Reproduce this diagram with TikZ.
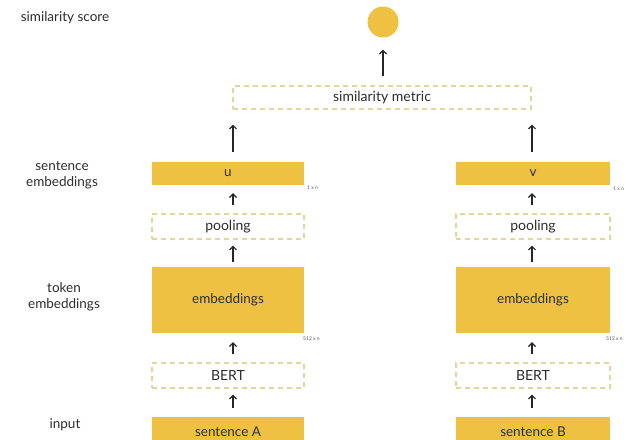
\documentclass[tikz,border=0pt]{standalone}
\usepackage{fontspec}
\setmainfont{Lato}
\usetikzlibrary{arrows.meta}
\definecolor{sbyellow}{RGB}{238,193,66}
\definecolor{sbdash}{RGB}{226,214,160}
\definecolor{sbtext}{RGB}{45,45,45}
\tikzset{
  filledbox/.style={rectangle, fill=sbyellow, draw=none, inner sep=0pt, text=sbtext, font=\fontsize{13.5}{15}\selectfont},
  dashbox/.style={rectangle, draw=sbdash, line width=1.1pt, dash pattern=on 5pt off 4pt, inner sep=0pt, text=sbtext, font=\fontsize{14}{15}\selectfont},
  sidelabel/.style={text=sbtext, align=center, font=\fontsize{13.5}{16}\selectfont},
  dimlabel/.style={text=sbtext!80, anchor=west, inner sep=0pt, font=\fontsize{5}{6}\selectfont},
  flow/.style={draw=black!85, line width=1.2pt, -{Straight Barb[length=3.5pt, width=7pt, line width=1.2pt]}},
}
\begin{document}
\begin{tikzpicture}[x=1pt, y=-1pt]
  \useasboundingbox (0,0) rectangle (636,439);
  \clip (0,0) rectangle (636,439);
  \fill[white] (0,0) rectangle (636,439);

  % column axes for the arrows
  \coordinate (colA) at (233,0);
  \coordinate (colB) at (532,0);

  % output
  \node[circle, fill=sbyellow, minimum size=31pt, inner sep=0pt] (score) at (383,22) {};
  \node[dashbox, minimum width=298pt, minimum height=23pt] (metric) at (382,97.5) {similarity metric};

  % left branch
  \node[filledbox, minimum width=152pt, minimum height=23pt] (uA) at (228,173.5) {u};
  \node[dashbox, minimum width=152pt, minimum height=25pt] (poolA) at (228,226.5) {pooling};
  \node[filledbox, minimum width=152pt, minimum height=66pt] (embA) at (228,300) {embeddings};
  \node[dashbox, minimum width=152pt, minimum height=25pt] (bertA) at (228,375.5) {BERT};
  \node[filledbox, minimum width=152pt, minimum height=30pt] (sentA) at (228,432) {sentence A};

  % right branch
  \node[filledbox, minimum width=154pt, minimum height=23pt] (vB) at (533,173.5) {v};
  \node[dashbox, minimum width=154pt, minimum height=25pt] (poolB) at (533,226.5) {pooling};
  \node[filledbox, minimum width=154pt, minimum height=66pt] (embB) at (533,300) {embeddings};
  \node[dashbox, minimum width=154pt, minimum height=25pt] (bertB) at (533,375.5) {BERT};
  \node[filledbox, minimum width=154pt, minimum height=30pt] (sentB) at (533,432) {sentence B};

  % dimension notes
  \node[dimlabel] (dimuA) at (307,188) {1 x n};
  \node[dimlabel] (dimeA) at (303,339) {512 x n};
  \node[dimlabel] (dimvB) at (613,189) {1 x n};
  \node[dimlabel] (dimeB) at (606,339) {512 x n};

  % row labels
  \node[sidelabel] (lscore) at (65,18) {similarity score};
  \node[sidelabel] (lsent) at (62,175) {sentence\\embeddings};
  \node[sidelabel] (ltok) at (64,297) {token\\embeddings};
  \node[sidelabel] (linput) at (65,425) {input};

  % arrows, left branch
  \draw[flow, shorten <=9pt, shorten >=6pt] (sentA.north -| colA) -- (bertA.south -| colA);
  \draw[flow, shorten <=8pt, shorten >=9pt] (bertA.north -| colA) -- (embA.south -| colA);
  \draw[flow, shorten <=5pt, shorten >=6pt] (embA.north -| colA) -- (poolA.south -| colA);
  \draw[flow, shorten <=8pt, shorten >=8pt] (poolA.north -| colA) -- (uA.south -| colA);
  \draw[flow, shorten <=10pt, shorten >=15pt] (uA.north -| colA) -- (metric.south -| colA);

  % arrows, right branch
  \draw[flow, shorten <=9pt, shorten >=6pt] (sentB.north -| colB) -- (bertB.south -| colB);
  \draw[flow, shorten <=8pt, shorten >=9pt] (bertB.north -| colB) -- (embB.south -| colB);
  \draw[flow, shorten <=5pt, shorten >=6pt] (embB.north -| colB) -- (poolB.south -| colB);
  \draw[flow, shorten <=8pt, shorten >=8pt] (poolB.north -| colB) -- (vB.south -| colB);
  \draw[flow, shorten <=10pt, shorten >=15pt] (vB.north -| colB) -- (metric.south -| colB);

  % metric to score
  \draw[flow, shorten <=9pt, shorten >=12pt] (metric.north -| score) -- (score.south);
\end{tikzpicture}
\end{document}
